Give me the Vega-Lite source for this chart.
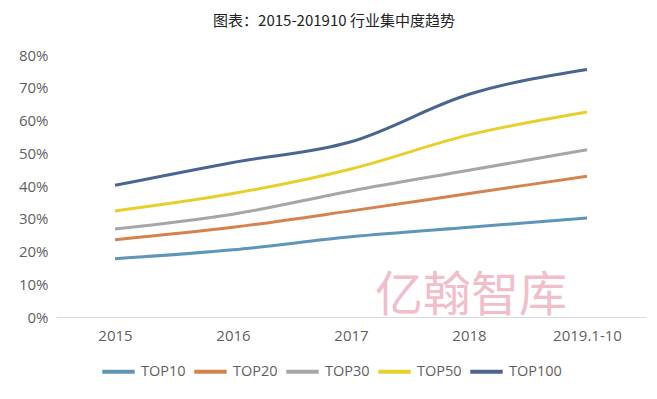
{
  "$schema": "https://vega.github.io/schema/vega-lite/v6.json",
  "autosize": {"type": "none"},
  "width": 590,
  "height": 262,
  "padding": {"left": 56, "top": 55, "right": 11, "bottom": 82},
  "background": "white",
  "title": {
    "text": "图表：2015-201910 行业集中度趋势",
    "font": "Noto Sans CJK SC",
    "fontSize": 15,
    "fontWeight": "normal",
    "color": "#222222",
    "anchor": "middle",
    "dx": -17,
    "offset": 19
  },
  "config": {
    "view": {"stroke": null},
    "axis": {"labelFont": "Open Sans", "labelFontSize": 15, "labelColor": "#5F5F5F", "ticks": false, "grid": false, "title": null}
  },
  "datasets": {
    "series": [
      {"year": "2015", "group": "TOP10", "value": 0.178},
      {"year": "2016", "group": "TOP10", "value": 0.205},
      {"year": "2017", "group": "TOP10", "value": 0.245},
      {"year": "2018", "group": "TOP10", "value": 0.274},
      {"year": "2019.1-10", "group": "TOP10", "value": 0.302},
      {"year": "2015", "group": "TOP20", "value": 0.236},
      {"year": "2016", "group": "TOP20", "value": 0.274},
      {"year": "2017", "group": "TOP20", "value": 0.324},
      {"year": "2018", "group": "TOP20", "value": 0.377},
      {"year": "2019.1-10", "group": "TOP20", "value": 0.43},
      {"year": "2015", "group": "TOP30", "value": 0.269},
      {"year": "2016", "group": "TOP30", "value": 0.314},
      {"year": "2017", "group": "TOP30", "value": 0.385},
      {"year": "2018", "group": "TOP30", "value": 0.448},
      {"year": "2019.1-10", "group": "TOP30", "value": 0.511},
      {"year": "2015", "group": "TOP50", "value": 0.324},
      {"year": "2016", "group": "TOP50", "value": 0.377},
      {"year": "2017", "group": "TOP50", "value": 0.452},
      {"year": "2018", "group": "TOP50", "value": 0.556},
      {"year": "2019.1-10", "group": "TOP50", "value": 0.626},
      {"year": "2015", "group": "TOP100", "value": 0.402},
      {"year": "2016", "group": "TOP100", "value": 0.472},
      {"year": "2017", "group": "TOP100", "value": 0.535},
      {"year": "2018", "group": "TOP100", "value": 0.68},
      {"year": "2019.1-10", "group": "TOP100", "value": 0.756}
    ],
    "mark": [
      {"year": "2018", "label": "亿翰智库", "value": 0.062}
    ]
  },
  "layer": [
    {
      "data": {"name": "series"},
      "mark": {"type": "line", "interpolate": "monotone", "strokeWidth": 3},
      "encoding": {
        "x": {
          "field": "year", "type": "ordinal",
          "scale": {"type": "point", "padding": 0.5, "domain": ["2015", "2016", "2017", "2018", "2019.1-10"]},
          "axis": {"labelAngle": 0, "domain": true, "domainColor": "#D9D9D9", "domainWidth": 1, "labelPadding": 11}
        },
        "y": {
          "field": "value", "type": "quantitative",
          "scale": {"domain": [0, 0.8], "nice": false},
          "axis": {"format": ".0%", "tickCount": 8, "domain": false, "labelPadding": 8, "labelOverlap": false, "labelSeparation": 0}
        },
        "color": {
          "field": "group", "type": "nominal",
          "scale": {
            "domain": ["TOP10", "TOP20", "TOP30", "TOP50", "TOP100"],
            "range": ["#5F95B8", "#D4834C", "#A6A6A6", "#E8CF2C", "#4B6592"]
          },
          "legend": {
            "orient": "none",
            "legendX": 44,
            "legendY": 298,
            "direction": "horizontal",
            "gridAlign": "each",
            "title": null,
            "symbolType": "stroke",
            "symbolSize": 1050,
            "symbolStrokeWidth": 4,
            "labelFont": "Open Sans",
            "labelFontSize": 14.5,
            "labelColor": "#5F5F5F",
            "labelOffset": 4,
            "columnPadding": 0
          }
        }
      }
    },
    {
      "data": {"name": "mark"},
      "mark": {"type": "text", "font": "Noto Sans CJK SC", "fontSize": 48, "color": "#EFAFBE", "opacity": 0.8, "dx": 2, "baseline": "middle", "align": "center"},
      "encoding": {
        "x": {"field": "year", "type": "ordinal", "scale": {"type": "point", "padding": 0.5, "domain": ["2015", "2016", "2017", "2018", "2019.1-10"]}},
        "y": {
          "field": "value", "type": "quantitative", "scale": {"domain": [0, 0.8], "nice": false},
          "axis": {"format": ".0%", "tickCount": 8, "domain": false, "labelPadding": 8, "labelOverlap": false, "labelSeparation": 0}
        },
        "text": {"field": "label"}
      }
    }
  ]
}
